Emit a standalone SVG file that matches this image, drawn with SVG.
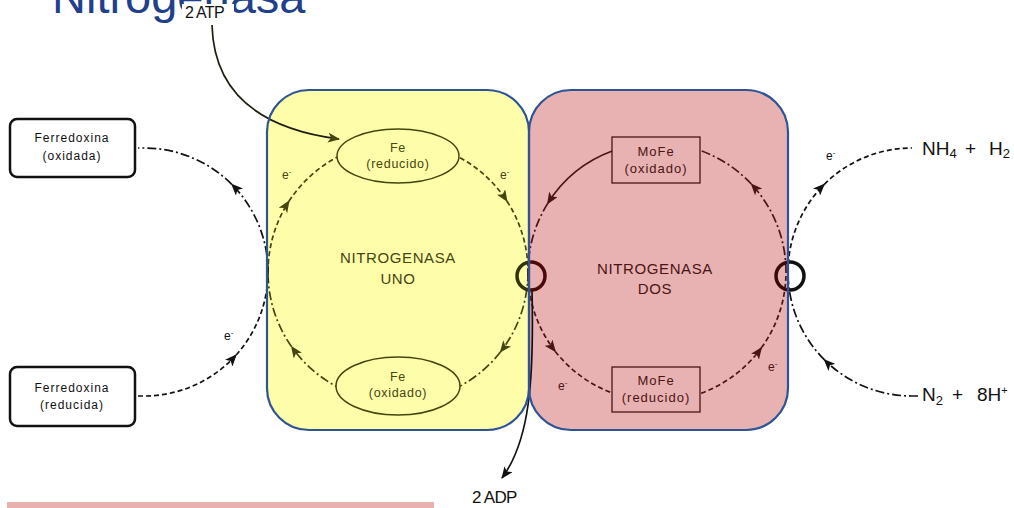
<svg xmlns="http://www.w3.org/2000/svg" width="1014" height="508" viewBox="0 0 1014 508">
  <style>
    text { font-family: "Liberation Sans", Arial, sans-serif; }
    .title { font-size: 47px; fill: #213f8a; }
    .big { font-size: 15px; letter-spacing: 0.6px; text-anchor: middle; }
    .lbl { font-size: 12.5px; letter-spacing: 0.7px; text-anchor: middle; }
    .mo { font-size: 13px; letter-spacing: 1px; text-anchor: middle; fill: #4a1414; }
    .fd { font-size: 12px; letter-spacing: 1px; text-anchor: middle; fill: #111; }
    .el { font-size: 12px; }
    .chem { font-size: 19px; fill: #111; }
    .olive { fill: #45450f; }
    .maroon { fill: #4a1414; }
    .c { fill: none; stroke-width: 1.7; }
    .co { stroke: #45450f; }
    .cm { stroke: #4a1414; }
    .ck { stroke: #111; }
    .dash { stroke-dasharray: 5 3; }
    .dd { stroke-dasharray: 9 3 2 3; }
    .box { fill: none; stroke: #2f5496; stroke-width: 2.2; }
  </style>
  <defs>
    <marker id="ah-olive" viewBox="0 0 12 10" refX="11" refY="5" markerWidth="12" markerHeight="10" markerUnits="userSpaceOnUse" orient="auto">
      <path d="M0,0 L12,5 L0,10 L3,5 z" fill="#45450f"/>
    </marker>
    <marker id="ah-maroon" viewBox="0 0 12 10" refX="11" refY="5" markerWidth="12" markerHeight="10" markerUnits="userSpaceOnUse" orient="auto">
      <path d="M0,0 L12,5 L0,10 L3,5 z" fill="#4a1414"/>
    </marker>
    <marker id="ah-black" viewBox="0 0 12 10" refX="11" refY="5" markerWidth="12" markerHeight="10" markerUnits="userSpaceOnUse" orient="auto">
      <path d="M0,0 L12,5 L0,10 L3,5 z" fill="#111"/>
    </marker>
  </defs>

  <!-- heading, cut by the top edge -->
  <text class="title" x="52" y="13">Nitrogenasa</text>
  <rect x="182" y="4" width="52" height="22" fill="#fff"/>
  <text x="185" y="18" font-size="16" letter-spacing="-0.7" fill="#111">2 ATP</text>

  <!-- protein compartments (fills) -->
  <g id="nitrogenasa-uno">
    <rect x="267" y="90" width="262" height="340" rx="42" fill="#fefeaa"/>
    <text class="big olive" x="398" y="263">NITROGENASA</text>
    <text class="big olive" x="398" y="284">UNO</text>
  </g>
  <g id="nitrogenasa-dos">
    <rect x="529" y="90" width="259" height="340" rx="42" fill="#e9b2b2"/>
    <text class="big maroon" x="655" y="274">NITROGENASA</text>
    <text class="big maroon" x="655" y="294">DOS</text>
  </g>

  <!-- electron flow -->
  <g id="connectors">
    <!-- Fe cycle (clockwise) -->
    <path class="c co dash" d="M268,272 A130,130 0 0 1 289,201.2" marker-end="url(#ah-olive)"/>
    <path class="c co dash" d="M289,201.2 A130,130 0 0 1 343.1,154.2"/>
    <path class="c co dash" d="M452.9,154.2 A130,130 0 0 1 507,201.2" marker-end="url(#ah-olive)"/>
    <path class="c co dash" d="M507,201.2 A130,130 0 0 1 528,272"/>
    <path class="c co dd" d="M528,272 A130,130 0 0 1 500.4,352" marker-end="url(#ah-olive)"/>
    <path class="c co dd" d="M500.4,352 A130,130 0 0 1 452.9,389.8"/>
    <path class="c co dd" d="M343.1,389.8 A130,130 0 0 1 291.5,346.6" marker-end="url(#ah-olive)"/>
    <path class="c co dd" d="M291.5,346.6 A130,130 0 0 1 268,272"/>

    <!-- MoFe cycle (counter-clockwise) -->
    <path class="c cm" d="M612.9,150.8 A129,129 0 0 0 547.6,203.6" marker-end="url(#ah-maroon)"/>
    <path class="c cm dd" d="M547.6,203.6 A129,129 0 0 0 528,272"/>
    <path class="c cm dash" d="M528,272 A129,129 0 0 0 555.3,351.4" marker-end="url(#ah-maroon)"/>
    <path class="c cm dash" d="M555.3,351.4 A129,129 0 0 0 612.9,393.2"/>
    <path class="c cm dash" d="M701.1,393.2 A129,129 0 0 0 761.4,347.8" marker-end="url(#ah-maroon)"/>
    <path class="c cm dash" d="M761.4,347.8 A129,129 0 0 0 786,272"/>
    <path class="c cm dd" d="M786,272 A129,129 0 0 0 751.3,184" marker-end="url(#ah-maroon)"/>
    <path class="c cm dd" d="M751.3,184 A129,129 0 0 0 701.1,150.8"/>

    <!-- ferredoxin shuttle -->
    <path class="c ck dash" d="M138,396 L144,396 A124,124 0 0 0 236.1,355" marker-end="url(#ah-black)"/>
    <path class="c ck dash" d="M236.1,355 A124,124 0 0 0 268,272"/>
    <path class="c ck dd" d="M268,272 A124,124 0 0 0 231.7,184.3" marker-end="url(#ah-black)"/>
    <path class="c ck dd" d="M231.7,184.3 A124,124 0 0 0 144,148 L138,148"/>

    <!-- substrate / products -->
    <path class="c ck dash" d="M788,272 A124,124 0 0 1 824.3,184.3" marker-end="url(#ah-black)"/>
    <path class="c ck dash" d="M824.3,184.3 A124,124 0 0 1 912,148"/>
    <path class="c ck dd" d="M918,396 L912,396 A124,124 0 0 1 824.3,359.7" marker-end="url(#ah-black)"/>
    <path class="c ck dd" d="M824.3,359.7 A124,124 0 0 1 788,272"/>

    <!-- ATP in, ADP out -->
    <path class="c" stroke="#1e1e10" d="M212,25 C214,100 270,130 339,139" marker-end="url(#ah-olive)"/>
    <path class="c ck" d="M532,290 C534,380 530,440 502,478" marker-end="url(#ah-black)"/>

    <!-- electron labels -->
    <text class="el olive" x="282" y="179">e<tspan dy="-5" font-size="8">-</tspan></text>
    <text class="el olive" x="500" y="179">e<tspan dy="-5" font-size="8">-</tspan></text>
    <text class="el" fill="#111" x="224" y="340">e<tspan dy="-5" font-size="8">-</tspan></text>
    <text class="el maroon" x="558" y="390">e<tspan dy="-5" font-size="8">-</tspan></text>
    <text class="el maroon" x="768" y="371">e<tspan dy="-5" font-size="8">-</tspan></text>
    <text class="el" fill="#111" x="826" y="160">e<tspan dy="-5" font-size="8">-</tspan></text>
  </g>

  <!-- Fe protein states -->
  <g id="fe-reducido">
    <ellipse cx="398" cy="156" rx="61" ry="27" fill="#fefeaa" stroke="#45450f" stroke-width="1.5"/>
    <text class="lbl olive" x="398" y="152">Fe</text>
    <text class="lbl olive" x="398" y="168">(reducido)</text>
  </g>
  <g id="fe-oxidado">
    <ellipse cx="398" cy="386" rx="62" ry="29" fill="#fefeaa" stroke="#45450f" stroke-width="1.5"/>
    <text class="lbl olive" x="398" y="381">Fe</text>
    <text class="lbl olive" x="398" y="397">(oxidado)</text>
  </g>

  <!-- MoFe protein states -->
  <g id="mofe-oxidado">
    <rect x="612" y="137" width="88" height="46" fill="#e9b2b2" stroke="#4a1414" stroke-width="1.3"/>
    <text class="mo" x="656" y="156">MoFe</text>
    <text class="mo" x="656" y="173">(oxidado)</text>
  </g>
  <g id="mofe-reducido">
    <rect x="612" y="367" width="88" height="45" fill="#e9b2b2" stroke="#4a1414" stroke-width="1.3"/>
    <text class="mo" x="656" y="385">MoFe</text>
    <text class="mo" x="656" y="402">(reducido)</text>
  </g>

  <!-- ferredoxin -->
  <g id="ferredoxina-oxidada">
    <rect x="10" y="119" width="125" height="58" rx="7" fill="#fff" stroke="#111" stroke-width="2.5"/>
    <text class="fd" x="72" y="142">Ferredoxina</text>
    <text class="fd" x="72" y="160">(oxidada)</text>
  </g>
  <g id="ferredoxina-reducida">
    <rect x="10" y="367" width="125" height="59" rx="7" fill="#fff" stroke="#111" stroke-width="2.5"/>
    <text class="fd" x="72" y="392">Ferredoxina</text>
    <text class="fd" x="72" y="409">(reducida)</text>
  </g>

  <!-- products and substrates -->
  <g id="nh4-h2">
    <text class="chem" x="922" y="155">NH<tspan font-size="13" dy="3">4</tspan><tspan dy="-3" x="965">+</tspan><tspan x="989">H</tspan><tspan font-size="13" dy="3">2</tspan></text>
  </g>
  <g id="n2-8h">
    <text class="chem" x="922" y="401">N<tspan font-size="13" dy="4">2</tspan><tspan dy="-4" x="952">+</tspan><tspan x="977">8H</tspan><tspan font-size="11" dy="-7">+</tspan></text>
  </g>

  <text id="adp" x="472" y="503" font-size="17" letter-spacing="-0.7" fill="#111">2 ADP</text>

  <!-- docking rings -->
  <g id="rings" fill="none" stroke-width="3.5">
    <path d="M531,262 A14,14 0 0 0 531,290" stroke="#33330a"/>
    <path d="M531,262 A14,14 0 0 1 531,290" stroke="#4a0a0a"/>
    <path d="M790,262 A14,14 0 0 0 790,290" stroke="#3a0a0a"/>
    <path d="M790,262 A14,14 0 0 1 790,290" stroke="#111"/>
  </g>

  <!-- compartment outlines on top -->
  <g id="outlines">
    <rect class="box" x="267" y="90" width="262" height="340" rx="42"/>
    <rect class="box" x="529" y="90" width="259" height="340" rx="42"/>
  </g>

  <rect x="7" y="502" width="427" height="6" fill="#eab0b0"/>
</svg>
